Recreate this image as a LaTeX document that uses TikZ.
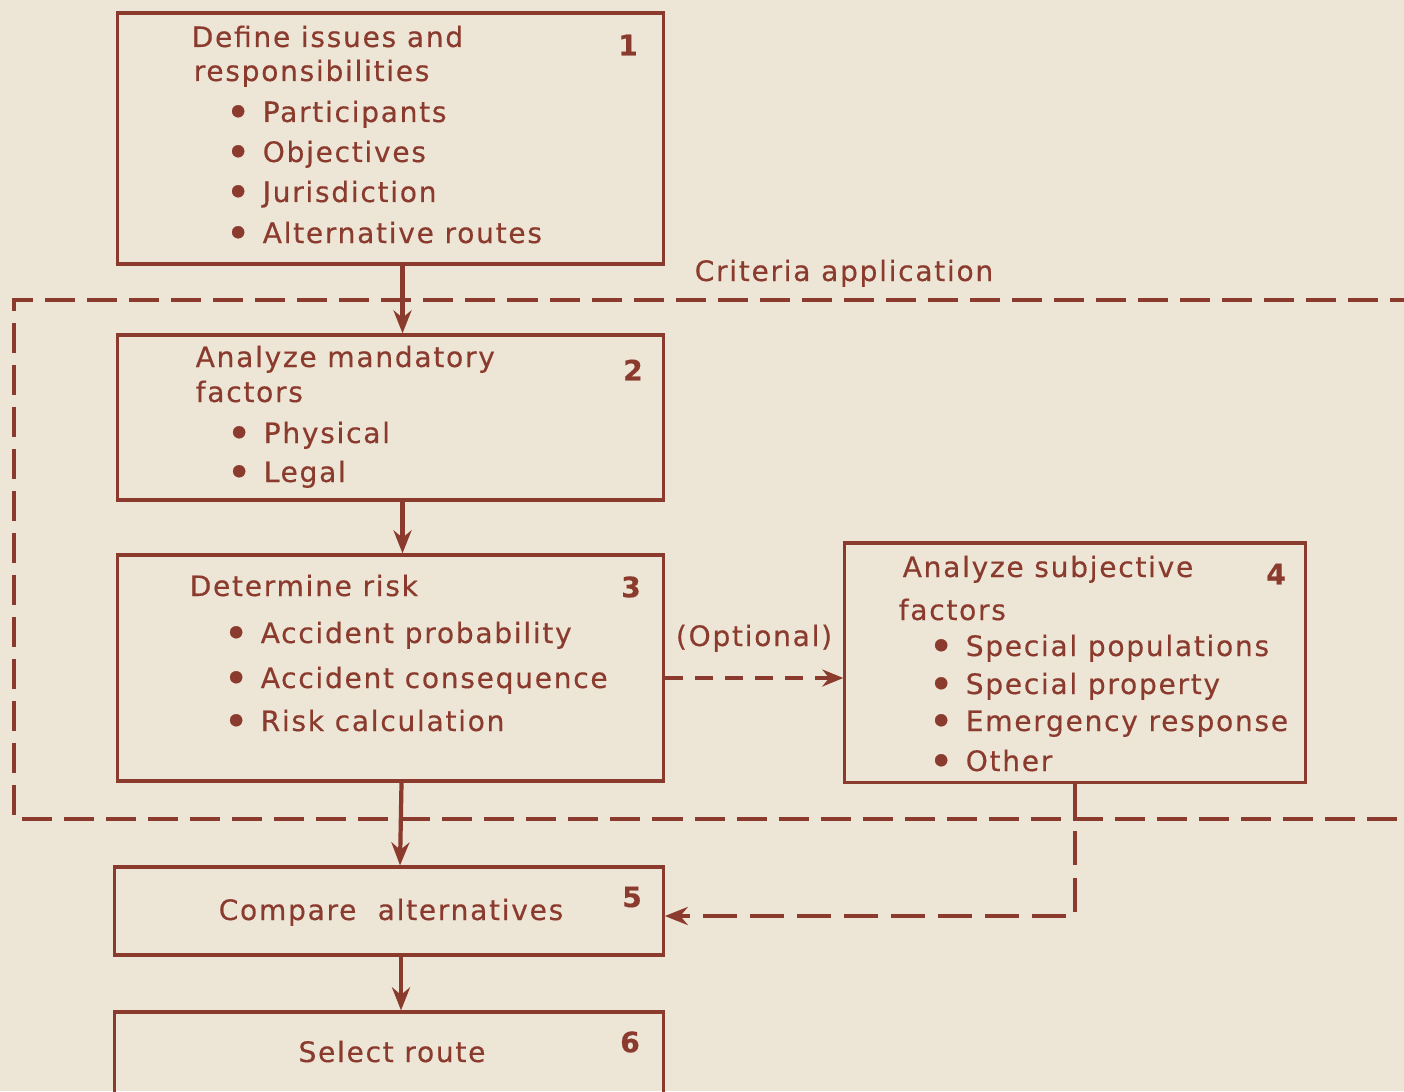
\documentclass[tikz,border=0pt]{standalone}
\usepackage{fontspec}
\usepackage{tikz}
\usetikzlibrary{positioning,arrows.meta,calc}
\newfontfamily\figfont{DejaVu Sans}[LetterSpace=6,FakeBold=0.4]
\definecolor{ink}{RGB}{139,59,46}
\definecolor{paper}{RGB}{237,230,214}
\newcommand{\itm}[1]{\makebox[0.37cm][l]{\smash{\raisebox{-1.4pt}{\fontsize{12}{10}\selectfont\textbullet}}}#1}
\tikzset{
  stepbox/.style={draw=ink, line width=0.9pt, inner sep=0pt},
  txt/.style={font=\fontsize{8}{9}\figfont, text=ink, anchor=base west, inner sep=0pt},
  num/.style={font=\fontsize{8}{9}\figfont\bfseries, text=ink, inner sep=0pt},
  flow/.style={-{Stealth[length=2.3mm,width=1.8mm]}, line width=1.2pt, draw=ink},
  optflow/.style={-{Stealth[length=2.1mm,width=1.7mm]}, line width=0.9pt, draw=ink,
                  dash pattern=on 1.8mm off 1.2mm},
  backflow/.style={-{Stealth[length=2.3mm,width=1.8mm]}, line width=1.3pt, draw=ink,
                   dash pattern=on 3.4mm off 1.3mm},
  critline/.style={draw=ink, line width=0.9pt, dash pattern=on 3mm off 1.2mm},
}

\begin{document}
\begin{tikzpicture}[x=0.01cm, y=-0.01cm]
\fill[paper] (0,0) rectangle (1404,1091);
\useasboundingbox (0,0) rectangle (1404,1091);
\clip (0,0) rectangle (1404,1091);

% boxes
\node[stepbox, minimum width=5.45cm, minimum height=2.51cm] (b1) at (390.5,138.5) {};
\node[stepbox, minimum width=5.45cm, minimum height=1.65cm] (b2) at (390.5,417.5) {};
\node[stepbox, minimum width=5.45cm, minimum height=2.26cm] (b3) at (390.5,668) {};
\node[stepbox, minimum width=4.60cm, minimum height=2.39cm] (b4) at (1075,662.5) {};
\node[stepbox, minimum width=5.48cm, minimum height=0.88cm] (b5) at (389,911) {};
\node[stepbox, minimum width=5.48cm, minimum height=1.08cm] (b6) at (389,1066) {};

% criteria application frame
\coordinate (crTR) at (1420,300);
\coordinate (crTL) at (14,300);
\coordinate (crBL) at (14,819);
\coordinate (crBR) at (1420,819);
\draw[critline] (crTR) -- (crTL) -- (crBL) -- (crBR);
\node[txt] (crit) at (694,281) {Criteria application};

% box texts
\node[txt] (t1a) at (191,47) {Define issues and};
\node[txt] (t1b) at (193,81) {responsibilities};
\foreach \y/\t [count=\k] in {122/Participants, 162/Objectives, 202/Jurisdiction, 243/Alternative routes}
  \node[txt] (t1-\k) at (225,\y) {\itm{\t}};
\node[num] (n1) at (628,45) {1};

\node[txt] (t2a) at (195,367) {Analyze mandatory};
\node[txt] (t2b) at (195,402) {factors};
\foreach \y/\t [count=\k] in {443/Physical, 482/Legal}
  \node[txt] (t2-\k) at (226,\y) {\itm{\t}};
\node[num] (n2) at (633,370) {2};

\node[txt] (t3a) at (189,596) {Determine risk};
\foreach \y/\t [count=\k] in {643/Accident probability, 688/Accident consequence, 731/Risk calculation}
  \node[txt] (t3-\k) at (223,\y) {\itm{\t}};
\node[num] (n3) at (631,587) {3};

\node[txt] (t4a) at (902,577) {Analyze subjective};
\node[txt] (t4b) at (898,620) {factors};
\foreach \y/\t [count=\k] in {656/Special populations, 694/Special property, 731/Emergency response, 771/Other}
  \node[txt] (t4-\k) at (928,\y) {\itm{\t}};
\node[num] (n4) at (1276,574) {4};

\node[txt, anchor=base] (t5) at (391,920) {Compare\ \ alternatives};
\node[num] (n5) at (632,897) {5};
\node[txt, anchor=base] (t6) at (392,1062) {Select route};
\node[num] (n6) at (630,1042) {6};

% connectors
\draw[flow] ([xshift=0.12cm]b1.south) -- ([xshift=0.12cm]b2.north);
\draw[flow] ([xshift=0.12cm]b2.south) -- ([xshift=0.12cm]b3.north);
\draw[flow] ([xshift=0.11cm]b3.south) -- ([xshift=0.11cm]b5.north);
\draw[flow] ([xshift=0.12cm]b5.south) -- ([xshift=0.12cm]b6.north);
\draw[optflow] ([yshift=-0.1cm]b3.east) -- ([yshift=-0.1cm]b3.east -| b4.west);
\node[txt, anchor=base] (opt) at (754,646) {(Optional)};
\draw[backflow] (b4.south) |- ([yshift=-0.05cm]b5.east);
\end{tikzpicture}
\end{document}
